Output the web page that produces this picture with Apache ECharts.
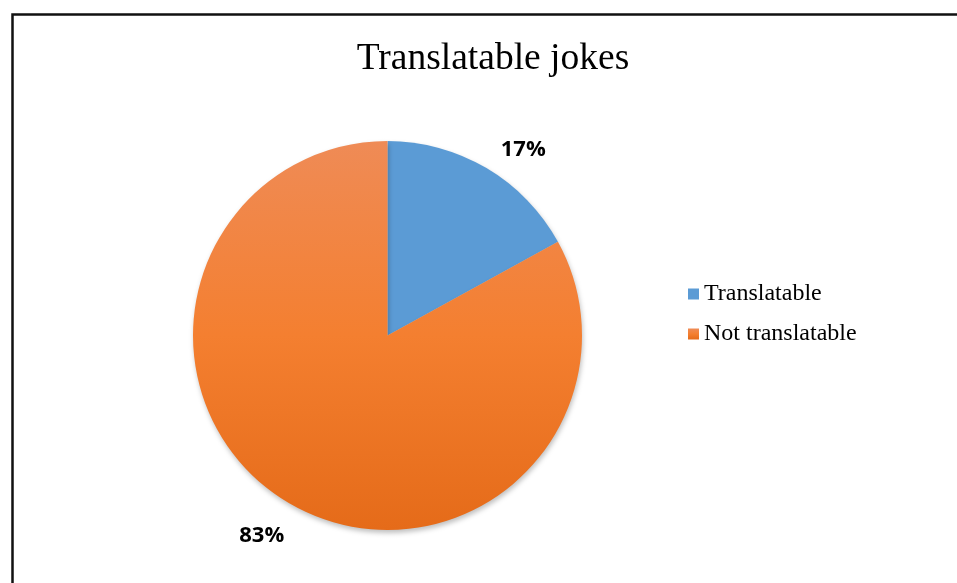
<!DOCTYPE html>
<html>
<head>
<meta charset="utf-8">
<script src="https://cdn.jsdelivr.net/npm/echarts@6/dist/echarts.min.js"></script>
<style>
  html, body { margin: 0; padding: 0; background: #fff; }
  #chart { width: 957px; height: 583px; }
</style>
</head>
<body>
<div id="chart"></div>
<script>
// Share of jokes that could be translated
const categories = ['Translatable', 'Not translatable'];
const shares = [17, 83];

const chart = echarts.init(document.getElementById('chart'), null, { renderer: 'canvas' });

const sliceColors = [
  '#5B9BD5',
  new echarts.graphic.LinearGradient(0, 0, 0, 1, [
    { offset: 0, color: '#EF8B56' },
    { offset: 0.5, color: '#F47F30' },
    { offset: 1, color: '#E56B19' }
  ])
];

// small nudges that keep the outside labels clear of the rim
const labelNudge = [[-4, 4], [14, 10]];

chart.setOption({
  backgroundColor: '#ffffff',
  animation: false,
  title: {
    text: 'Translatable jokes',
    left: 488,
    top: 35,
    textAlign: 'center',
    textStyle: {
      fontFamily: '"Liberation Serif", "Times New Roman", serif',
      fontSize: 37.5,
      fontWeight: 'normal',
      color: '#000'
    }
  },
  legend: {
    orient: 'vertical',
    left: 683,
    top: 277,
    itemWidth: 11,
    itemHeight: 11,
    itemGap: 16,
    icon: 'rect',
    textStyle: {
      fontFamily: '"Liberation Serif", "Times New Roman", serif',
      fontSize: 24,
      color: '#000',
      lineHeight: 24
    },
    data: categories
  },
  graphic: [{
    type: 'rect',
    silent: true,
    z: 100,
    shape: { x: 12.5, y: 14.5, width: 1000, height: 1000 },
    style: { fill: 'none', stroke: '#111', lineWidth: 2.5 }
  }],
  series: [{
    type: 'pie',
    center: [387.5, 335.5],
    radius: 194.5,
    startAngle: 90,
    clockwise: true,
    avoidLabelOverlap: false,
    itemStyle: {
      borderWidth: 0,
      shadowBlur: 5,
      shadowOffsetX: 1,
      shadowOffsetY: 3,
      shadowColor: 'rgba(0,0,0,0.25)'
    },
    label: {
      show: true,
      position: 'outside',
      formatter: '{c}%',
      fontFamily: '"Open Sans", "Noto Sans", sans-serif',
      fontWeight: 'bold',
      fontSize: 22,
      color: '#000'
    },
    labelLine: { show: false, length: 26, length2: 0 },
    labelLayout: function (params) {
      const n = labelNudge[params.dataIndex] || [0, 0];
      return { dx: n[0], dy: n[1] };
    },
    emphasis: { disabled: true },
    data: categories.map((name, i) => ({
      name: name,
      value: shares[i],
      itemStyle: { color: sliceColors[i] }
    }))
  }]
});
</script>
</body>
</html>
